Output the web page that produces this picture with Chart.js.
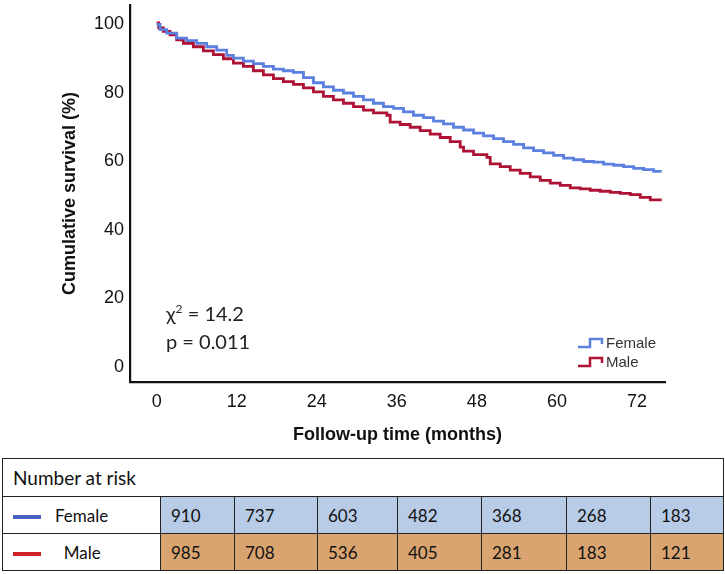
<!DOCTYPE html>
<html>
<head>
<meta charset="utf-8">
<script src="https://cdn.jsdelivr.net/npm/chart.js@4.4.1/dist/chart.umd.min.js"></script>
<style>
  body { margin: 0; background: #fff; }
  #wrap { position: relative; width: 725px; height: 574px; overflow: hidden; }
  #myChart { position: absolute; left: 0; top: 0; }
  .note { position: absolute; font-family: Lato, "Open Sans", sans-serif; font-size: 20px; color: #222; white-space: nowrap; }
  .leg { position: absolute; font-family: "Liberation Sans", Arial, sans-serif; font-size: 15px; color: #333; }
  .leg div { height: 19px; line-height: 19px; display: flex; align-items: center; }
  .leg svg { margin-right: 2px; }
  #risk { position: absolute; left: 2px; top: 458px; border-collapse: collapse; font-family: Lato, "Open Sans", sans-serif; font-size: 17px; color: #111; }
  #risk td { border: 1.5px solid #222; padding: 0 0 0 10px; }
  #risk tr.head td { height: 37px; padding-left: 10px; font-size: 19px; }
  #risk tr.row td { height: 36px; }
  #risk tr.f td.v { background: #b8cce8; }
  #risk tr.m td.v { background: #d9a470; }
  .mark { display: inline-block; width: 28px; height: 4px; vertical-align: middle; margin-right: 14px; }
</style>
</head>
<body>
<div id="wrap">
  <canvas id="myChart" width="725" height="452"></canvas>
  <div class="note" style="left:166px; top:301px;">χ<sup style="font-size:12px">2</sup> = 14.2</div>
  <div class="note" style="left:166px; top:329px;">p = 0.011</div>
  <div class="leg" style="left:577px; top:333px;" id="legend"></div>
  <table id="risk"></table>
</div>
<script>
// months and survival (%)
var femaleTime = [0, 0.5, 1.5, 3, 4.5, 6, 7.5, 9, 10.5, 11.5, 13, 14.5, 16, 17.5, 19, 20.5, 22, 23.5, 25, 26.5, 28, 29.5, 31, 32.5, 34, 35.5, 37, 38.5, 40, 41.5, 43, 44.5, 46, 47.5, 49, 50.5, 52, 53.5, 55, 56.5, 58, 59.5, 61, 62.5, 64, 65.5, 67, 68.5, 70, 71.5, 73, 74.5, 75.5];
var femaleSurv = [100, 98.5, 97.5, 96, 95.3, 94.5, 93.5, 92.5, 91, 90.2, 89.3, 88.6, 87.8, 87, 86.5, 86, 84.5, 83, 81.8, 80.8, 80, 79, 78, 77, 76, 75.5, 74.5, 73.5, 72.8, 71.8, 71, 70, 69.2, 68.3, 67.5, 66.7, 65.8, 65, 64, 63.2, 62.5, 61.8, 61, 60.5, 60, 59.8, 59.2, 58.9, 58.5, 58, 57.6, 57.1, 56.8];

var maleTime = [0, 0.3, 1, 2, 3, 4, 5.5, 7, 8.5, 10, 11.5, 13, 14.5, 16, 17.5, 19, 20.5, 22, 23.5, 25, 26.5, 28, 29.5, 31, 32.5, 34.5, 35, 36.5, 38, 39.5, 41, 42.5, 44, 45.5, 46, 47.5, 49.5, 50, 51.5, 53, 54.5, 56, 57.5, 59, 60.5, 62, 63.5, 65, 66.5, 68, 69.5, 71, 72.5, 74, 75.5];
var maleSurv = [100.5, 99, 98, 97, 95.5, 94.5, 93.5, 92.3, 91.2, 90, 88.7, 87.8, 86.5, 85.3, 84.2, 83.3, 82.5, 81.5, 80.3, 79, 78, 77, 76, 75, 74.2, 73.5, 71.5, 70.8, 70, 69, 68, 67, 65.8, 64.2, 63, 62, 61.2, 59.3, 58.5, 57.5, 56.5, 55.5, 54.5, 53.7, 53, 52.3, 52, 51.6, 51.3, 51, 50.7, 50.3, 49.5, 48.8, 48.4];

var xTicks = [0, 12, 24, 36, 48, 60, 72];
var yTicks = [0, 20, 40, 60, 80, 100];

var groups = ['Female', 'Male'];
var lineColors = ['#5b80df', '#ae1235'];
var markColors = ['#4a5fc1', '#d0202a'];
var femaleRisk = [910, 737, 603, 482, 368, 268, 183];
var maleRisk = [985, 708, 536, 405, 281, 183, 121];
var colWidths = [158, 74, 83, 80, 84, 85, 84, 73];

function toPoints(t, s) {
  return t.map(function (v, i) { return { x: v, y: s[i] }; });
}

function noPad(scale) {
  scale.paddingTop = 0;
  scale.paddingBottom = 0;
  scale.paddingLeft = 0;
  scale.paddingRight = 0;
}

var ctx = document.getElementById('myChart').getContext('2d');
var chart = new Chart(ctx, {
  type: 'line',
  data: {
    datasets: [
      {
        label: groups[0],
        data: toPoints(femaleTime, femaleSurv),
        borderColor: lineColors[0],
        borderWidth: 2.8,
        stepped: 'before',
        pointRadius: 0,
        fill: false
      },
      {
        label: groups[1],
        data: toPoints(maleTime, maleSurv),
        borderColor: lineColors[1],
        borderWidth: 2.8,
        stepped: 'before',
        pointRadius: 0,
        fill: false
      }
    ]
  },
  options: {
    responsive: false,
    animation: false,
    layout: { padding: { top: 5, right: 60, left: 0, bottom: 0 } },
    plugins: {
      legend: { display: false },
      tooltip: { enabled: false }
    },
    scales: {
      x: {
        type: 'linear',
        min: -4,
        max: 76.2,
        afterBuildTicks: function (scale) { scale.ticks = xTicks.map(function (v) { return { value: v }; }); },
        afterFit: function (scale) { scale.height = 70; noPad(scale); },
        grid: { display: false, drawTicks: false },
        border: { color: '#111', width: 2.2 },
        ticks: { padding: 9, color: '#111', font: { family: 'Liberation Sans', size: 18 } },
        title: {
          display: true,
          text: 'Follow-up time (months)',
          color: '#111',
          font: { family: 'Liberation Sans', size: 18, weight: 'bold' },
          padding: { top: 0, bottom: 6 }
        }
      },
      y: {
        min: -4.4,
        max: 105.7,
        afterBuildTicks: function (scale) { scale.ticks = yTicks.map(function (v) { return { value: v }; }); },
        afterFit: function (scale) { scale.width = 130; noPad(scale); },
        grid: { display: false, drawTicks: false },
        border: { color: '#111', width: 2.2 },
        ticks: { padding: 6, color: '#111', font: { family: 'Liberation Sans', size: 18 } },
        title: {
          display: true,
          text: 'Cumulative survival (%)',
          color: '#111',
          font: { family: 'Liberation Sans', size: 18, weight: 'bold' },
          padding: { top: 59, bottom: 0 }
        }
      }
    }
  }
});

// legend with step icons
var leg = document.getElementById('legend');
groups.forEach(function (g, i) {
  var row = document.createElement('div');
  row.innerHTML = '<svg width="27" height="14"><path d="M1,11 H13 V3 H25 V8" fill="none" stroke="' + lineColors[i] + '" stroke-width="2.5"/></svg>' + g;
  leg.appendChild(row);
});

// number at risk table
var table = document.getElementById('risk');
var colgroup = '<colgroup>' + colWidths.map(function (w) { return '<col style="width:' + w + 'px">'; }).join('') + '</colgroup>';
var html = colgroup + '<tr class="head"><td colspan="8">Number at risk</td></tr>';
[femaleRisk, maleRisk].forEach(function (vals, i) {
  html += '<tr class="row ' + (i === 0 ? 'f' : 'm') + '"><td><span class="mark" style="background:' + markColors[i] + '"></span>' +
    (i === 1 ? '&nbsp;&nbsp;' : '') + groups[i] + '</td>';
  vals.forEach(function (v) { html += '<td class="v">' + v + '</td>'; });
  html += '</tr>';
});
table.innerHTML = html;
table.style.width = colWidths.reduce(function (a, b) { return a + b; }, 0) + 'px';
table.style.tableLayout = 'fixed';
</script>
</body>
</html>
